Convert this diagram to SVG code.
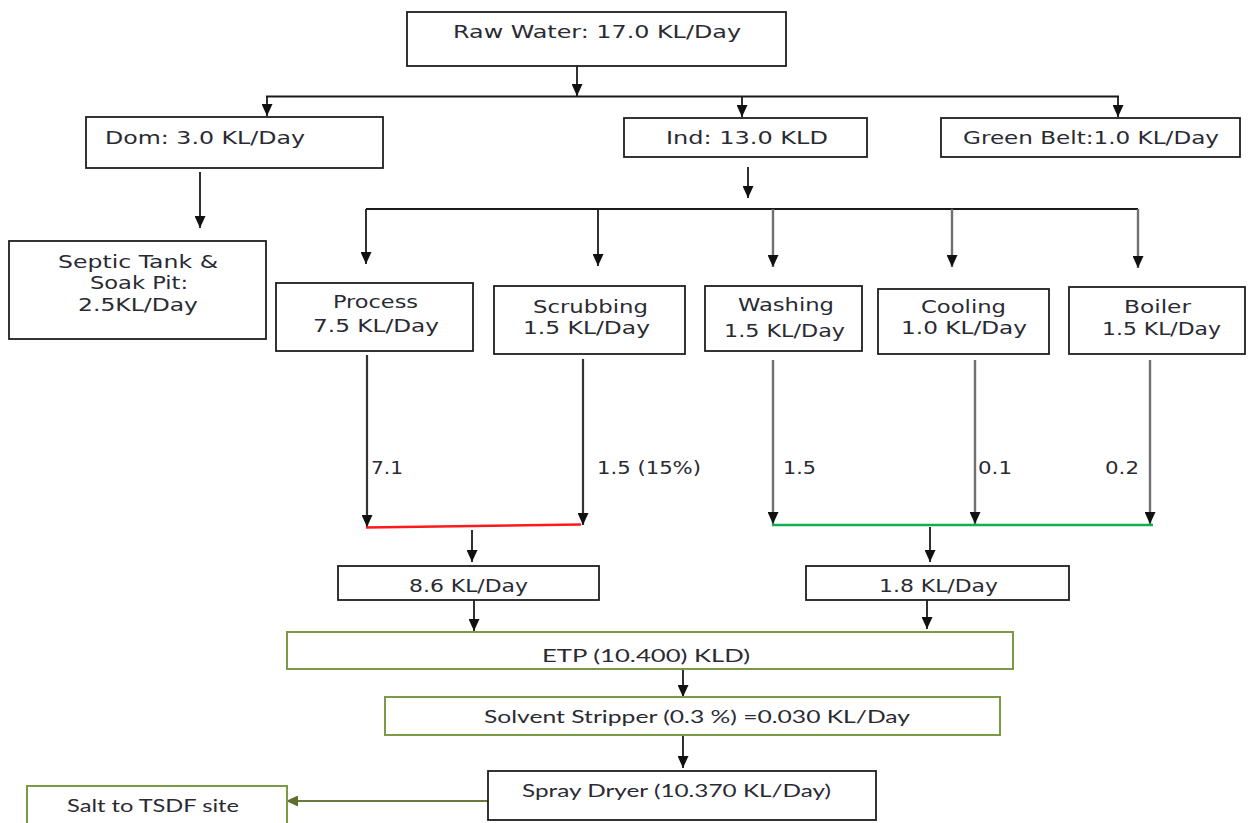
<svg xmlns="http://www.w3.org/2000/svg" width="1248" height="823" viewBox="0 0 1248 823">
  <style>
    .box { fill: #ffffff; stroke: #1e1e1e; stroke-width: 1.8; }
    .gbox { fill: #ffffff; stroke: #7a9a45; stroke-width: 2; }
    .v { font-family: "DejaVu Sans", Verdana, sans-serif; font-size: 17.5px; fill: #2a2a33; }
    .c { font-family: Lato, "Liberation Sans", sans-serif; font-size: 17px; fill: #2a2a33; }
    .lnk { fill: none; stroke: #1a1a1a; stroke-width: 1.8; }
    .dark { fill: none; stroke: #333333; stroke-width: 2.2; }
    .grey { fill: none; stroke: #707070; stroke-width: 2.4; }
  </style>
  <defs>
    <marker id="arr" markerUnits="userSpaceOnUse" markerWidth="12" markerHeight="11" refX="12" refY="5.5" orient="auto">
      <path d="M0,0 L12,5.5 L0,11 z" fill="#111111"/>
    </marker>
    <marker id="arrOlive" markerUnits="userSpaceOnUse" markerWidth="12" markerHeight="11" refX="12" refY="5.5" orient="auto">
      <path d="M0,0 L12,5.5 L0,11 z" fill="#5f6e32"/>
    </marker>
  </defs>

  <rect width="1248" height="823" fill="#ffffff"/>

  <!-- connectors -->
  <g id="connectors">
    <!-- raw water split -->
    <line class="lnk" x1="577" y1="66" x2="577" y2="96" marker-end="url(#arr)"/>
    <line class="lnk" x1="266" y1="96.5" x2="1119" y2="96.5"/>
    <line class="lnk" x1="267" y1="96" x2="267" y2="116" marker-end="url(#arr)"/>
    <line class="lnk" x1="742" y1="96" x2="742" y2="117" marker-end="url(#arr)"/>
    <line class="lnk" x1="1118" y1="96" x2="1118" y2="117" marker-end="url(#arr)"/>
    <!-- domestic to septic -->
    <line class="lnk" x1="200" y1="172" x2="200" y2="228" marker-end="url(#arr)"/>
    <!-- industrial split -->
    <line class="lnk" x1="748" y1="167" x2="748" y2="198" marker-end="url(#arr)"/>
    <line class="lnk" x1="366" y1="209" x2="1138" y2="209"/>
    <line class="lnk" x1="366" y1="209" x2="366" y2="264" marker-end="url(#arr)"/>
    <line class="lnk" x1="598" y1="209" x2="598" y2="266" marker-end="url(#arr)"/>
    <line class="grey" x1="773" y1="209" x2="773" y2="267" marker-end="url(#arr)"/>
    <line class="grey" x1="952" y1="209" x2="952" y2="267" marker-end="url(#arr)"/>
    <line class="grey" x1="1138" y1="209" x2="1138" y2="268" marker-end="url(#arr)"/>
    <!-- effluent outflows -->
    <line class="dark" x1="367" y1="355" x2="367" y2="527" marker-end="url(#arr)"/>
    <line class="dark" x1="583" y1="359" x2="583" y2="525" marker-end="url(#arr)"/>
    <line class="grey" x1="773" y1="360" x2="773" y2="524" marker-end="url(#arr)"/>
    <line class="grey" x1="975" y1="360" x2="975" y2="524" marker-end="url(#arr)"/>
    <line class="grey" x1="1150" y1="360" x2="1150" y2="524" marker-end="url(#arr)"/>
    <!-- collectors -->
    <line x1="366" y1="527.5" x2="581" y2="524.5" stroke="#ff1a1a" stroke-width="2.6"/>
    <line x1="772" y1="525" x2="1153" y2="525" stroke="#10b050" stroke-width="2.6"/>
    <line class="lnk" x1="472" y1="530" x2="472" y2="562" marker-end="url(#arr)"/>
    <line class="lnk" x1="930" y1="527" x2="930" y2="562" marker-end="url(#arr)"/>
    <!-- into ETP and onwards -->
    <line class="lnk" x1="474" y1="600" x2="474" y2="631" marker-end="url(#arr)"/>
    <line class="lnk" x1="927" y1="600" x2="927" y2="629" marker-end="url(#arr)"/>
    <line class="lnk" x1="683" y1="669" x2="683" y2="697" marker-end="url(#arr)"/>
    <line class="lnk" x1="683" y1="736" x2="683" y2="768" marker-end="url(#arr)"/>
    <line x1="489" y1="801" x2="286" y2="801" stroke="#6b7a3c" stroke-width="2.2" marker-end="url(#arrOlive)"/>
    <!-- flow labels -->
    <text class="v" x="371" y="474" textLength="32" lengthAdjust="spacingAndGlyphs">7.1</text>
    <text class="v" x="597" y="474" textLength="104" lengthAdjust="spacingAndGlyphs">1.5 (15%)</text>
    <text class="v" x="783" y="474" textLength="33" lengthAdjust="spacingAndGlyphs">1.5</text>
    <text class="v" x="978" y="474" textLength="34" lengthAdjust="spacingAndGlyphs">0.1</text>
    <text class="v" x="1105" y="474" textLength="34" lengthAdjust="spacingAndGlyphs">0.2</text>
  </g>

  <g id="raw-water">
    <rect class="box" x="407" y="12" width="379" height="54"/>
    <text class="v" x="453" y="38" textLength="288" lengthAdjust="spacingAndGlyphs">Raw Water: 17.0 KL/Day</text>
  </g>

  <g id="domestic">
    <rect class="box" x="86" y="117" width="297" height="51"/>
    <text class="v" x="105" y="144" textLength="200" lengthAdjust="spacingAndGlyphs">Dom: 3.0 KL/Day</text>
  </g>

  <g id="industrial">
    <rect class="box" x="624" y="118" width="243" height="39"/>
    <text class="v" x="666" y="144" textLength="162" lengthAdjust="spacingAndGlyphs">Ind: 13.0 KLD</text>
  </g>

  <g id="green-belt">
    <rect class="box" x="941" y="118" width="299" height="39"/>
    <text class="v" x="963" y="144" textLength="256" lengthAdjust="spacingAndGlyphs">Green Belt:1.0 KL/Day</text>
  </g>

  <g id="septic-tank">
    <rect class="box" x="9" y="241" width="257" height="98"/>
    <text class="v" x="58" y="268" textLength="160" lengthAdjust="spacingAndGlyphs">Septic Tank &amp;</text>
    <text class="v" x="90" y="289" textLength="98" lengthAdjust="spacingAndGlyphs">Soak Pit:</text>
    <text class="v" x="78" y="311" textLength="120" lengthAdjust="spacingAndGlyphs">2.5KL/Day</text>
  </g>

  <g id="process">
    <rect class="box" x="276" y="283" width="197" height="68"/>
    <text class="v" x="333" y="308" textLength="85" lengthAdjust="spacingAndGlyphs">Process</text>
    <text class="v" x="313" y="332" textLength="126" lengthAdjust="spacingAndGlyphs">7.5 KL/Day</text>
  </g>

  <g id="scrubbing">
    <rect class="box" x="494" y="286" width="191" height="68"/>
    <text class="v" x="533" y="313" textLength="115" lengthAdjust="spacingAndGlyphs">Scrubbing</text>
    <text class="v" x="523" y="334" textLength="127" lengthAdjust="spacingAndGlyphs">1.5 KL/Day</text>
  </g>

  <g id="washing">
    <rect class="box" x="705" y="286" width="157" height="65"/>
    <text class="v" x="738" y="311" textLength="96" lengthAdjust="spacingAndGlyphs">Washing</text>
    <text class="v" x="724" y="337" textLength="121" lengthAdjust="spacingAndGlyphs">1.5 KL/Day</text>
  </g>

  <g id="cooling">
    <rect class="box" x="878" y="289" width="171" height="65"/>
    <text class="v" x="921" y="313" textLength="85" lengthAdjust="spacingAndGlyphs">Cooling</text>
    <text class="v" x="901" y="334" textLength="126" lengthAdjust="spacingAndGlyphs">1.0 KL/Day</text>
  </g>

  <g id="boiler">
    <rect class="box" x="1069" y="287" width="176" height="67"/>
    <text class="v" x="1124" y="313" textLength="67" lengthAdjust="spacingAndGlyphs">Boiler</text>
    <text class="v" x="1102" y="335" textLength="119" lengthAdjust="spacingAndGlyphs">1.5 KL/Day</text>
  </g>

  <g id="collected-a">
    <rect class="box" x="338" y="566" width="261" height="34"/>
    <text class="v" x="409" y="592" textLength="119" lengthAdjust="spacingAndGlyphs">8.6 KL/Day</text>
  </g>

  <g id="collected-b">
    <rect class="box" x="806" y="566" width="263" height="34"/>
    <text class="v" x="879" y="592" textLength="119" lengthAdjust="spacingAndGlyphs">1.8 KL/Day</text>
  </g>

  <g id="etp">
    <rect class="gbox" x="287" y="632" width="726" height="37"/>
    <text class="c" x="542" y="662" textLength="208" lengthAdjust="spacingAndGlyphs">ETP (10.400) KLD)</text>
  </g>

  <g id="solvent-stripper">
    <rect class="gbox" x="385" y="697" width="615" height="38"/>
    <text class="c" x="484" y="723" textLength="426" lengthAdjust="spacingAndGlyphs">Solvent Stripper (0.3 %) =0.030 KL/Day</text>
  </g>

  <g id="spray-dryer">
    <rect class="box" x="488" y="771" width="388" height="49"/>
    <text class="c" x="522" y="797" textLength="309" lengthAdjust="spacingAndGlyphs">Spray Dryer (10.370 KL/Day)</text>
  </g>

  <g id="salt-tsdf">
    <rect class="gbox" x="27" y="786" width="260" height="50"/>
    <text class="c" x="67" y="812" textLength="172" lengthAdjust="spacingAndGlyphs">Salt to TSDF site</text>
  </g>
</svg>
